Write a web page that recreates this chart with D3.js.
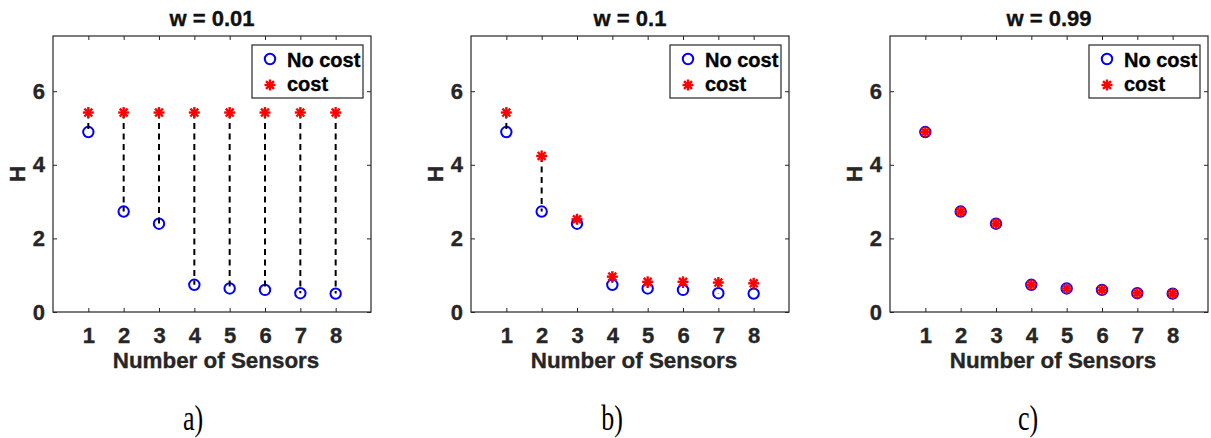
<!DOCTYPE html>
<meta charset="utf-8">
<script src="https://d3js.org/d3.v7.min.js"></script>

<svg id="chart" width="1211" height="438"></svg>

<style>
body { margin: 0; background: #fff; }
svg { display: block; }
text { font-family: 'Liberation Sans', Arial, sans-serif; font-weight: bold; fill: #262626; }
.tick text { font-size: 22px; fill: #262626; stroke: #262626; stroke-width: 0.35; }
.tick line { stroke: #262626; }
.frame { fill: none; stroke: #262626; stroke-width: 1.2; }
text.title { font-size: 22px; fill: #111; stroke: #111; stroke-width: 0.35; }
text.label { font-size: 22.4px; stroke: #262626; stroke-width: 0.35; }
text.legend { font-size: 20px; fill: #000; stroke: #000; stroke-width: 0.35; }
text.caption { font-family: 'Liberation Serif', 'Times New Roman', serif; font-weight: normal; font-size: 26px; fill: #000; }
.stem { stroke: #000; stroke-width: 2; stroke-dasharray: 6 4.5; }
.nocost { fill: none; stroke: #0000ff; stroke-width: 2; }
.cost line { stroke: #ff0000; stroke-width: 2.4; }
</style>

<script>
  const sensors = [1, 2, 3, 4, 5, 6, 7, 8];
  const noCost = [4.89, 2.73, 2.40, 0.74, 0.64, 0.60, 0.51, 0.50];
  const costA = [5.42, 5.42, 5.42, 5.42, 5.42, 5.42, 5.42, 5.42];
  const costB = [5.42, 4.24, 2.52, 0.96, 0.82, 0.82, 0.80, 0.78];
  const costC = [4.89, 2.73, 2.40, 0.74, 0.64, 0.60, 0.51, 0.50];
  const weights = ['0.01', '0.1', '0.99'];
  const captions = ['a)', 'b)', 'c)'];
  const yTicks = [0, 2, 4, 6];
  const legendLabels = ['No cost', 'cost'];

  const costs = [costA, costB, costC];

  const svg = d3.select('#chart');

  const lefts = [53, 471, 890];
  const pw = 318;
  const plotTop = 36, plotBottom = 312;
  const ph = plotBottom - plotTop;
  const captionX = [193, 612, 1028];

  const x = d3.scaleLinear().domain([0, 9]).range([0, pw]);
  const y = d3.scaleLinear().domain([0, 7.5]).range([ph, 0]);

  // asterisk marker: plus + cross
  function star(g, r) {
    const k = r * 0.72;
    [[-r, 0, r, 0], [0, -r, 0, r], [-k, -k, k, k], [-k, k, k, -k]]
      .forEach(d => g.append('line').attr('x1', d[0]).attr('y1', d[1]).attr('x2', d[2]).attr('y2', d[3]));
  }

  weights.forEach((w, p) => {
    const cost = costs[p];
    const g = svg.append('g').attr('transform', `translate(${lefts[p]}, ${plotTop})`);

    g.append('g')
      .attr('transform', `translate(0, ${ph})`)
      .call(d3.axisBottom(x).tickValues(sensors).tickSize(-4).tickPadding(15))
      .call(a => a.select('.domain').remove());
    g.append('g')
      .call(d3.axisTop(x).tickValues(sensors).tickSize(-4).tickFormat(''))
      .call(a => a.select('.domain').remove());
    g.append('g')
      .call(d3.axisLeft(y).tickValues(yTicks).tickSize(-4).tickPadding(8))
      .call(a => a.select('.domain').remove());
    g.append('g')
      .attr('transform', `translate(${pw}, 0)`)
      .call(d3.axisRight(y).tickValues(yTicks).tickSize(-4).tickFormat(''))
      .call(a => a.select('.domain').remove());
    g.selectAll('.tick text').attr('fill', '#262626');

    g.append('rect').attr('class', 'frame')
      .attr('width', pw).attr('height', ph);

    // circles
    g.selectAll('circle.nocost')
      .data(sensors)
      .enter().append('circle')
      .attr('class', 'nocost')
      .attr('cx', (d) => x(d))
      .attr('cy', (d, i) => y(noCost[i]))
      .attr('r', 5.2);

    // dashed stems
    g.selectAll('line.stem')
      .data(sensors)
      .enter().append('line')
      .attr('class', 'stem')
      .attr('x1', (d) => x(d)).attr('x2', (d) => x(d))
      .attr('y1', (d, i) => y(cost[i]))
      .attr('y2', (d, i) => y(noCost[i]));

    // asterisks
    sensors.forEach((d, i) => {
      const s = g.append('g').attr('class', 'cost')
        .attr('transform', `translate(${x(d)}, ${y(cost[i])})`);
      star(s, 5.5);
    });

    // title
    g.append('text').attr('class', 'title')
      .attr('x', pw / 2).attr('y', 26 - plotTop)
      .attr('text-anchor', 'middle')
      .text(`w = ${w}`);

    // axis labels
    g.append('text').attr('class', 'label')
      .attr('x', pw / 2 + 4).attr('y', 368 - plotTop)
      .attr('text-anchor', 'middle')
      .text('Number of Sensors');
    g.append('text').attr('class', 'label')
      .attr('transform', `translate(-28, ${ph / 2}) rotate(-90)`)
      .attr('text-anchor', 'middle')
      .text('H');

    // legend
    const lg = g.append('g').attr('transform', `translate(${pw - 119}, 9)`);
    lg.append('rect')
      .attr('width', 111).attr('height', 53)
      .attr('fill', '#fff').attr('stroke', '#262626').attr('stroke-width', 1.2);
    lg.append('circle').attr('class', 'nocost')
      .attr('cx', 18).attr('cy', 14).attr('r', 5.2);
    const ls = lg.append('g').attr('class', 'cost').attr('transform', 'translate(18, 40)');
    star(ls, 5.5);
    legendLabels.forEach((t, i) => {
      lg.append('text').attr('class', 'legend')
        .attr('x', 35).attr('y', 22 + i * 24)
        .text(t);
    });

    svg.append('text').attr('class', 'caption')
      .attr('transform', `translate(${captionX[p]}, 430) scale(1, 1.38)`)
      .attr('text-anchor', 'middle')
      .text(captions[p]);
  });
</script>
